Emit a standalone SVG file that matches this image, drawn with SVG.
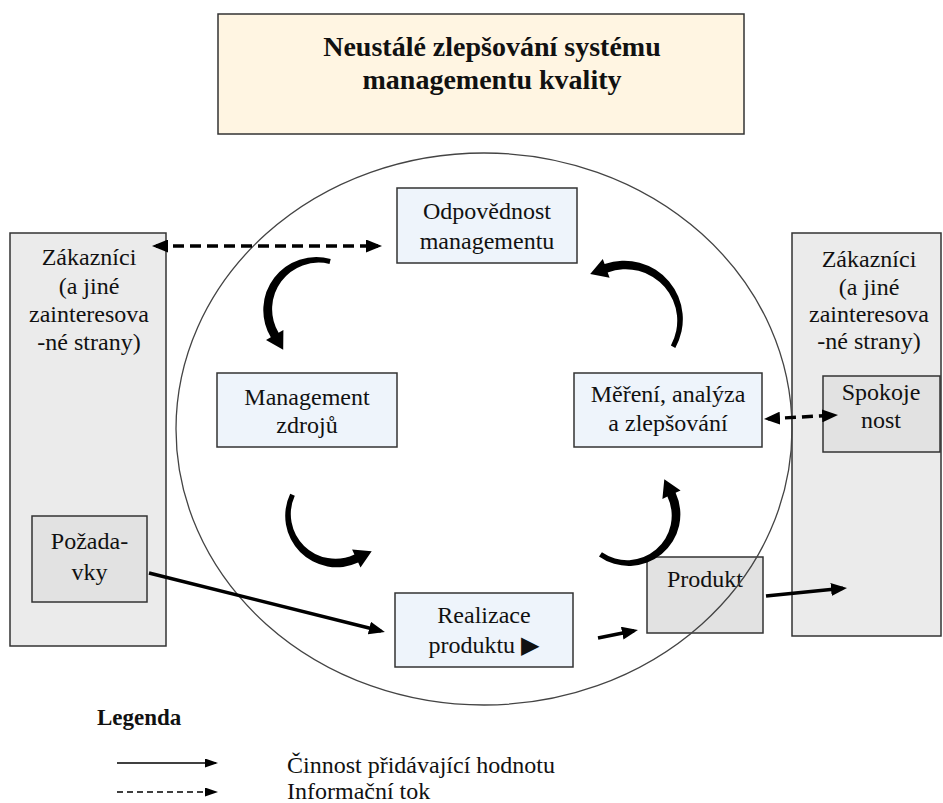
<svg xmlns="http://www.w3.org/2000/svg" width="943" height="803" viewBox="0 0 943 803">
  <style>
    text { font-family: "Liberation Serif", "DejaVu Serif", serif; font-size: 24px; fill: #111; text-anchor: middle; }
    .title { font-weight: bold; font-size: 28px; }
    .legend-title { font-weight: bold; font-size: 23px; text-anchor: start; }
    .legend-text { text-anchor: start; }
    .box { stroke: #333; stroke-width: 1.5; }
    .blue { fill: #EEF4FB; }
    .side { fill: #EBEBEB; }
    .inner { fill: #E2E2E2; }
    .flow { stroke: #000; stroke-width: 3.5; fill: none; }
    .info { stroke: #000; stroke-width: 3.5; fill: none; stroke-dasharray: 11 6; }
    .curve { fill: #000; }
    .thin { stroke: #000; stroke-width: 1.5; fill: none; }
  </style>
  <defs>
    <marker id="head" markerUnits="userSpaceOnUse" viewBox="0 0 16 13" refX="12" refY="6.5" markerWidth="16" markerHeight="13" orient="auto-start-reverse">
      <path d="M0,0 L16,6.5 L0,13 Z" fill="#000"/>
    </marker>
    <marker id="small" markerUnits="userSpaceOnUse" viewBox="0 0 13 9" refX="11" refY="4.5" markerWidth="13" markerHeight="9" orient="auto">
      <path d="M0,0 L13,4.5 L0,9 Z" fill="#000"/>
    </marker>
  </defs>

  <!-- title banner -->
  <g id="title">
    <rect class="box" x="218" y="14" width="526" height="120" fill="#FFF5E2"/>
    <text class="title" x="492" y="56">Neustálé zlepšování systému</text>
    <text class="title" x="492" y="89">managementu kvality</text>
  </g>

  <!-- customers, input side -->
  <g id="customers-left">
    <rect class="box side" x="10" y="233" width="156" height="413"/>
    <text x="89" y="265">Zákazníci</text>
    <text x="89" y="294">(a jiné</text>
    <text x="89" y="322">zainteresova</text>
    <text x="89" y="350">-né strany)</text>
  </g>
  <g id="requirements">
    <rect class="box inner" x="32" y="516" width="115" height="86"/>
    <text x="89.5" y="549">Požada-</text>
    <text x="89.5" y="580">vky</text>
  </g>

  <!-- customers, output side -->
  <g id="customers-right">
    <rect class="box side" x="792" y="233" width="149" height="403"/>
    <text x="869" y="267">Zákazníci</text>
    <text x="869" y="295">(a jiné</text>
    <text x="869" y="322">zainteresova</text>
    <text x="869" y="349">-né strany)</text>
  </g>
  <g id="satisfaction">
    <rect class="box inner" x="823" y="376" width="117" height="76"/>
    <text x="881" y="400">Spokoje</text>
    <text x="881" y="428">nost</text>
  </g>

  <!-- process cycle -->
  <g id="management-responsibility">
    <rect class="box blue" x="397" y="188" width="180" height="75"/>
    <text x="487" y="219">Odpovědnost</text>
    <text x="487" y="249">managementu</text>
  </g>
  <g id="resource-management">
    <rect class="box blue" x="217" y="373" width="180" height="74"/>
    <text x="307" y="405">Management</text>
    <text x="307" y="433">zdrojů</text>
  </g>
  <g id="measurement">
    <rect class="box blue" x="574" y="373" width="188" height="74"/>
    <text x="668" y="402">Měření, analýza</text>
    <text x="668" y="431">a zlepšování</text>
  </g>
  <g id="product-realization">
    <rect class="box blue" x="395" y="593" width="178" height="74"/>
    <text x="484" y="623">Realizace</text>
    <text x="484" y="653">produktu ▶</text>
  </g>
  <g id="product">
    <rect class="box inner" x="647" y="557" width="116" height="76"/>
    <text x="705" y="587">Produkt</text>
  </g>

  <!-- system boundary -->
  <ellipse id="system" cx="484" cy="429" rx="308" ry="276" fill="none" stroke="#444" stroke-width="1.3"/>

  <g id="connectors">
    <!-- cycle arrows -->
    <path class="curve" d="M330.7,259.1 A53,53 0 0 0 270.8,337.3 L266,340 L283.2,349.7 L283.4,330 L278.6,332.8 A46.5,46.5 0 0 1 329.5,263.9 Z"/>
    <path class="curve" d="M675.3,347.9 A58.5,58.5 0 0 0 604.6,264.1 L602.8,258.9 L590.2,274.1 L609.6,277.7 L607.7,272.5 A51.5,51.5 0 0 1 670.9,345.5 Z"/>
    <path class="curve" d="M290.2,493.7 A51.5,51.5 0 0 0 358.2,562.6 L360.5,567.6 L371.7,551.3 L352.1,549.4 L354.4,554.4 A44.5,44.5 0 0 1 294.8,495.8 Z"/>
    <path class="curve" d="M599,556.4 A51.5,51.5 0 0 0 675.6,492.8 L680.6,490.5 L664.3,479.3 L662.4,498.9 L667.4,496.6 A44.5,44.5 0 0 1 601.9,552.3 Z"/>
    <!-- value-adding flows -->
    <line class="flow" x1="149" y1="573" x2="381" y2="631" marker-end="url(#head)"/>
    <line class="flow" x1="598" y1="638" x2="634" y2="630.8" marker-end="url(#head)"/>
    <line class="flow" x1="766" y1="596" x2="843" y2="588.3" marker-end="url(#head)"/>
    <!-- information flows -->
    <line class="info" x1="156" y1="246" x2="378" y2="246" marker-start="url(#head)" marker-end="url(#head)"/>
    <line class="info" x1="768" y1="418.8" x2="834" y2="415.2" marker-start="url(#head)" marker-end="url(#head)"/>
  </g>

  <!-- legend -->
  <g id="legend">
    <text class="legend-title" x="97" y="725">Legenda</text>
    <line class="thin" x1="117" y1="763" x2="216" y2="763" marker-end="url(#small)"/>
    <text class="legend-text" x="287" y="773">Činnost přidávající hodnotu</text>
    <line class="thin" x1="117" y1="792" x2="216" y2="792" stroke-dasharray="6 4" marker-end="url(#small)"/>
    <text class="legend-text" x="287" y="799">Informační tok</text>
  </g>
</svg>
